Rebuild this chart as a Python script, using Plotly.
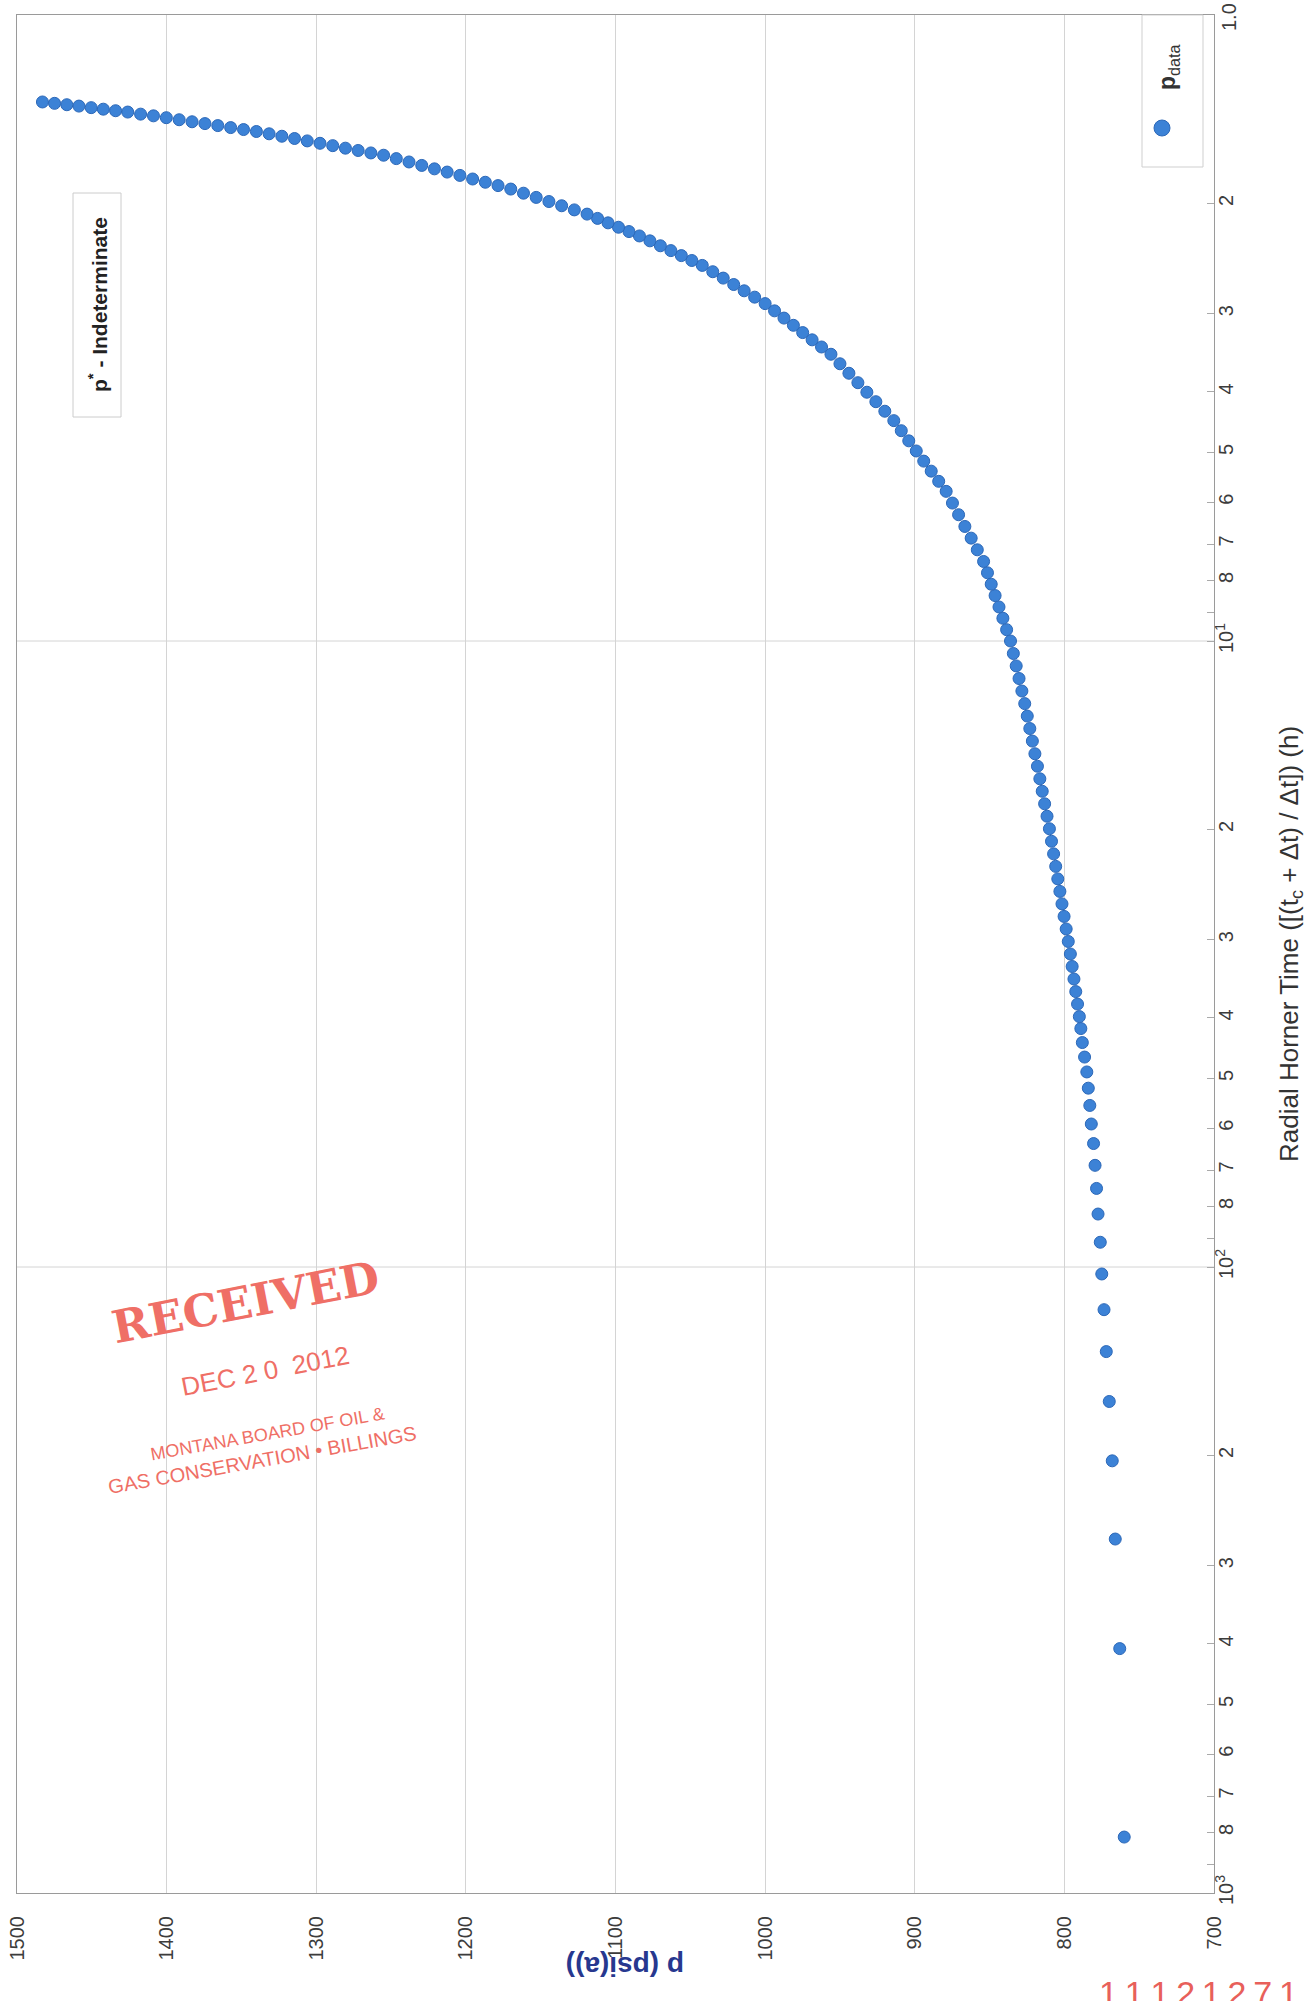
import plotly.graph_objects as go

# Radial Horner time (tc + dt)/dt in hours, one entry per pressure sample
horner_time = [
    814, 407, 272, 204, 164, 136.5, 117, 102.6, 91.3, 82.3,
    74.9, 68.8, 63.5, 59.1, 55.2, 51.8, 48.8, 46.2, 43.8, 41.6,
    39.81, 38.02, 36.31, 34.67, 33.11, 31.62, 30.20, 28.84, 27.54, 26.30,
    25.12, 23.99, 22.91, 21.88, 20.89, 19.95, 19.05, 18.20, 17.38, 16.60,
    15.85, 15.14, 14.45, 13.80, 13.18, 12.59, 12.02, 11.48, 10.96, 10.47, 10.00,
    9.592, 9.198, 8.823, 8.461, 8.115, 7.781, 7.464,
    7.150, 6.850, 6.562, 6.285, 6.021, 5.767,
    5.558, 5.354, 5.160, 4.971, 4.789, 4.614, 4.446,
    4.295, 4.147, 4.005, 3.867, 3.735, 3.607, 3.483,
    3.391, 3.303, 3.216, 3.131, 3.049, 2.969, 2.891,
    2.823, 2.758, 2.695, 2.632, 2.571, 2.512,
    2.467, 2.423, 2.379, 2.337, 2.295, 2.254,
    2.218, 2.183, 2.148, 2.113, 2.080,
    2.048, 2.017, 1.986, 1.956, 1.926, 1.897,
    1.873, 1.850, 1.828, 1.804, 1.782, 1.761, 1.739, 1.717, 1.696, 1.675,
    1.661, 1.646, 1.632, 1.617, 1.603, 1.589, 1.575, 1.562, 1.548, 1.535,
    1.524, 1.513, 1.502, 1.491, 1.481, 1.470, 1.459, 1.449, 1.440, 1.429,
    1.422, 1.414, 1.406, 1.398, 1.391, 1.384, 1.377,
]

# Shut-in pressure p, psi(a)
pressure = [
    760, 763, 766, 768, 770, 772, 773.5, 775, 776, 777.5,
    778.5, 779.5, 780.5, 782, 783, 784, 785, 786.5, 788, 789,
    790, 791.2, 792.4, 793.6, 794.8, 796, 797.4, 798.8, 800.2, 801.6,
    803, 804.4, 805.8, 807.2, 808.6, 810, 811.6, 813.2, 814.8, 816.4,
    818, 819.7, 821.4, 823.1, 824.8, 826.5, 828.4, 830.3, 832.2, 834.1, 836,
    838.6, 841.1, 843.7, 846.3, 848.9, 851.4, 854,
    858.2, 862.3, 866.5, 870.7, 874.8, 879,
    884, 889, 894, 899, 904, 909, 914,
    920, 926, 932, 938, 944, 950, 956,
    962.3, 968.6, 974.9, 981.1, 987.4, 993.7, 1000,
    1007, 1014, 1021, 1028, 1035, 1042,
    1049, 1056, 1063, 1070, 1077, 1084,
    1091, 1098, 1105, 1112, 1119,
    1127.5, 1136, 1144.5, 1153, 1161.5, 1170,
    1178.5, 1187, 1195.5, 1204, 1212.5, 1221, 1229.5, 1238, 1246.5, 1255,
    1263.5, 1272, 1280.5, 1289, 1297.5, 1306, 1314.5, 1323, 1331.5, 1340,
    1348.6, 1357.2, 1365.8, 1374.4, 1383, 1391.6, 1400.2, 1408.8, 1417.4, 1426,
    1434.1, 1442.3, 1450.4, 1458.6, 1466.7, 1474.9, 1483,
]

# Pressure axis ticks
pressure_ticks = [700, 800, 900, 1000, 1100, 1200, 1300, 1400, 1500]

# Horner time axis ticks (log, every digit of each decade)
horner_ticks = [1, 2, 3, 4, 5, 6, 7, 8, 9,
                10, 20, 30, 40, 50, 60, 70, 80, 90,
                100, 200, 300, 400, 500, 600, 700, 800, 900, 1000]
horner_labels = [" ", "2", "3", "4", "5", "6", "7", "8", " ",
                 "10<sup>1</sup>", "2", "3", "4", "5", "6", "7", "8", " ",
                 "10<sup>2</sup>", "2", "3", "4", "5", "6", "7", "8", " ",
                 "10<sup>3</sup>"]
first_horner_label = "1.0"
decade_lines = [10, 100]

W, H = 1314, 2001
L, R, T, B = 17, 1214, 15, 1893
BLUE = "#3c82d6"
TICK_FONT = dict(family="Liberation Sans, Arial, sans-serif", size=20, color="#3c3c3c")


def px(x):
    return (x - L) / (R - L)


def py(y):
    return (B - y) / (B - T)


fig = go.Figure()
fig.add_trace(go.Scatter(
    x=pressure, y=horner_time, mode="markers", name="pdata",
    marker=dict(size=12, color=BLUE, line=dict(width=1, color="#2c68b8")),
    showlegend=False,
))

shapes = []
for d in decade_lines:
    shapes.append(dict(type="line", xref="paper", yref="y", x0=0, x1=1,
                       y0=d, y1=d,
                       line=dict(color="#d4d4d4", width=1), layer="below"))

# legend box on the right edge
shapes.append(dict(type="rect", xref="paper", yref="paper",
                   x0=px(1142), x1=px(1203), y0=py(167), y1=py(15),
                   line=dict(color="#cfcfcf", width=1), fillcolor="white", layer="above"))
shapes.append(dict(type="circle", xref="paper", yref="paper",
                   x0=px(1154), x1=px(1170), y0=py(136), y1=py(120),
                   line=dict(color="#2c68b8", width=1), fillcolor=BLUE, layer="above"))
# p* note box
shapes.append(dict(type="rect", xref="paper", yref="paper",
                   x0=px(73), x1=px(121), y0=py(417), y1=py(193),
                   line=dict(color="#cccccc", width=1), fillcolor="white", layer="above"))

stamp = "#ef6f66"
annotations = [
    dict(x=px(1229), y=py(17), text=first_horner_label, textangle=-90, font=TICK_FONT),
    dict(x=px(1168), y=py(68), text="<b>p</b><sub>data</sub>", textangle=-90,
         font=dict(family="Liberation Sans, Arial", size=23, color="#333333")),
    dict(x=px(98), y=py(305), text="<b>p<sup>*</sup> - Indeterminate</b>", textangle=-90,
         font=dict(family="Liberation Sans, Arial", size=21, color="#222222")),
    dict(x=px(1291), y=py(944),
         text="Radial Horner Time ([(t<sub>c</sub> + \u0394t) / \u0394t]) (h)", textangle=-90,
         font=dict(family="Liberation Sans, Arial", size=26, color="#333333")),
    dict(x=px(625), y=py(1967), text="<b>p (psi(a))</b>", textangle=180,
         font=dict(family="Liberation Sans, Arial", size=28, color="#27388f")),
    dict(x=px(245), y=py(1302), text="<b>RECEIVED</b>", textangle=-11,
         font=dict(family="DejaVu Serif, serif", size=45, color=stamp)),
    dict(x=px(265), y=py(1371), text="DEC 2 0  2012", textangle=-11,
         font=dict(family="Liberation Sans Narrow, Liberation Sans", size=26, color=stamp)),
    dict(x=px(267), y=py(1434), text="MONTANA BOARD OF OIL &", textangle=-10,
         font=dict(family="Liberation Sans, Arial", size=18, color=stamp)),
    dict(x=px(262), y=py(1460), text="GAS CONSERVATION \u2022 BILLINGS", textangle=-10,
         font=dict(family="Liberation Sans, Arial", size=20, color=stamp)),
    dict(x=px(1198), y=py(1993), text="1\u20091\u20091\u20092\u20091\u20092\u20097\u20091",
         font=dict(family="Liberation Sans, sans-serif", size=34, color="#e8605a")),
]
for a in annotations:
    a.update(xref="paper", yref="paper", showarrow=False, xanchor="center", yanchor="middle")

fig.update_layout(
    width=W, height=H,
    margin=dict(l=L, r=W - R, t=T, b=H - B),
    paper_bgcolor="white", plot_bgcolor="white",
    showlegend=False,
    shapes=shapes,
    annotations=annotations,
    xaxis=dict(
        range=[1500, 700], tickvals=pressure_ticks, tickangle=-90,
        tickfont=TICK_FONT, ticklabelstandoff=14, automargin=False,
        ticklabeloverflow="allow",
        showgrid=True, gridcolor="#d4d4d4", gridwidth=1, zeroline=False,
        showline=True, linecolor="#9a9a9a", linewidth=1, mirror=True, ticks="",
    ),
    yaxis=dict(
        type="log", range=[3, 0], side="right", automargin=False,
        tickvals=horner_ticks, ticktext=horner_labels, tickangle=-90,
        tickfont=TICK_FONT, ticks="inside", ticklen=7, tickcolor="#aaaaaa",
        ticklabelstandoff=-6, ticklabeloverflow="allow",
        showgrid=False, zeroline=False,
        showline=True, linecolor="#9a9a9a", linewidth=1, mirror=True,
    ),
    # outer half of the crossing tick marks on the time axis
    yaxis2=dict(
        type="log", range=[3, 0], side="right", overlaying="y", automargin=False,
        tickvals=horner_ticks, ticks="outside", ticklen=7, tickcolor="#aaaaaa",
        showticklabels=False, showgrid=False, zeroline=False, showline=False,
    ),
)

fig.write_html("out.html")
